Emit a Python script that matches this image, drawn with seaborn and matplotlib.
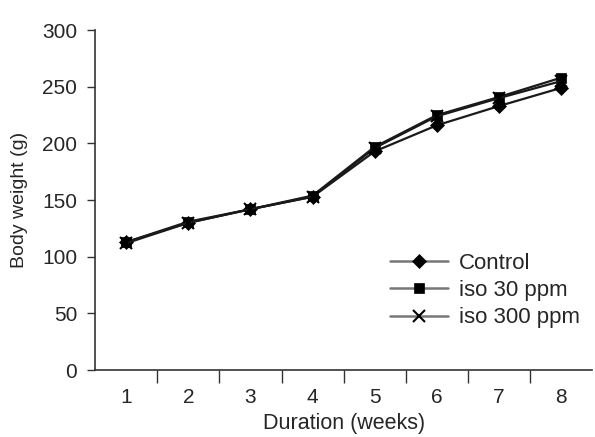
import matplotlib
matplotlib.use("Agg")
import matplotlib.pyplot as plt
import seaborn as sns
import pandas as pd
import numpy as np

weeks = [1, 2, 3, 4, 5, 6, 7, 8]
control = [113, 130, 142, 153, 193, 216, 233, 249]
iso30 = [113, 131, 142, 154, 197, 225, 241, 258]
iso300 = [112, 130, 142, 153, 196, 224, 240, 255]
series_names = ["Control", "iso 30 ppm", "iso 300 ppm"]

df = pd.DataFrame({
    "week": weeks * 3,
    "weight": control + iso30 + iso300,
    "group": [series_names[0]] * 8 + [series_names[1]] * 8 + [series_names[2]] * 8,
})

sns.set_style("ticks")
plt.rcParams['font.family'] = ['Liberation Sans', 'DejaVu Sans']

fig = plt.figure(figsize=(5.95, 4.37), dpi=100)
ax = fig.add_axes([0.16, 0.153, 0.835, 0.778])

markers = {"Control": "D", "iso 30 ppm": "s", "iso 300 ppm": "x"}
msizes = {"Control": 7, "iso 30 ppm": 7, "iso 300 ppm": 8}
for name in series_names:
    sub = df[df["group"] == name]
    sns.lineplot(data=sub, x="week", y="weight", ax=ax, color="#1a1a1a",
                 marker=markers[name], markersize=msizes[name],
                 markerfacecolor="black", markeredgecolor="black",
                 markeredgewidth=1.5 if name == "iso 300 ppm" else 0.5,
                 linewidth=1.6, label=name)

ax.set_xlim(0.5, 8.5)
ax.set_ylim(0, 300)
ax.set_yticks([0, 50, 100, 150, 200, 250, 300])
ax.set_xticks(weeks)
ax.set_xticks(np.arange(1.5, 8.5, 1), minor=True)
ax.tick_params(axis="x", which="major", length=0, labelsize=15, pad=13)
ax.tick_params(axis="x", which="minor", length=9, width=1, color="#333333")
ax.tick_params(axis="y", length=6, width=1, labelsize=15, color="#333333", pad=7)
for s in ["top", "right"]:
    ax.spines[s].set_visible(False)
for s in ["left", "bottom"]:
    ax.spines[s].set_color("#333333")
    ax.spines[s].set_linewidth(1.2)

ax.set_xlabel("Duration (weeks)", fontsize=15.5, labelpad=4)
ax.set_ylabel("Body weight (g)", fontsize=14, labelpad=10)

leg = ax.legend(loc="upper left", bbox_to_anchor=(0.594, 0.345), frameon=False,
                fontsize=16, handlelength=2.6, handletextpad=0.5,
                labelspacing=0.28, borderaxespad=0.0, borderpad=0.0)
for h in leg.get_lines():
    h.set_color("#777777")
    h.set_linewidth(1.8)
    h.set_markerfacecolor("black")
    h.set_markeredgecolor("black")

fig.savefig("out.png", dpi=100)
